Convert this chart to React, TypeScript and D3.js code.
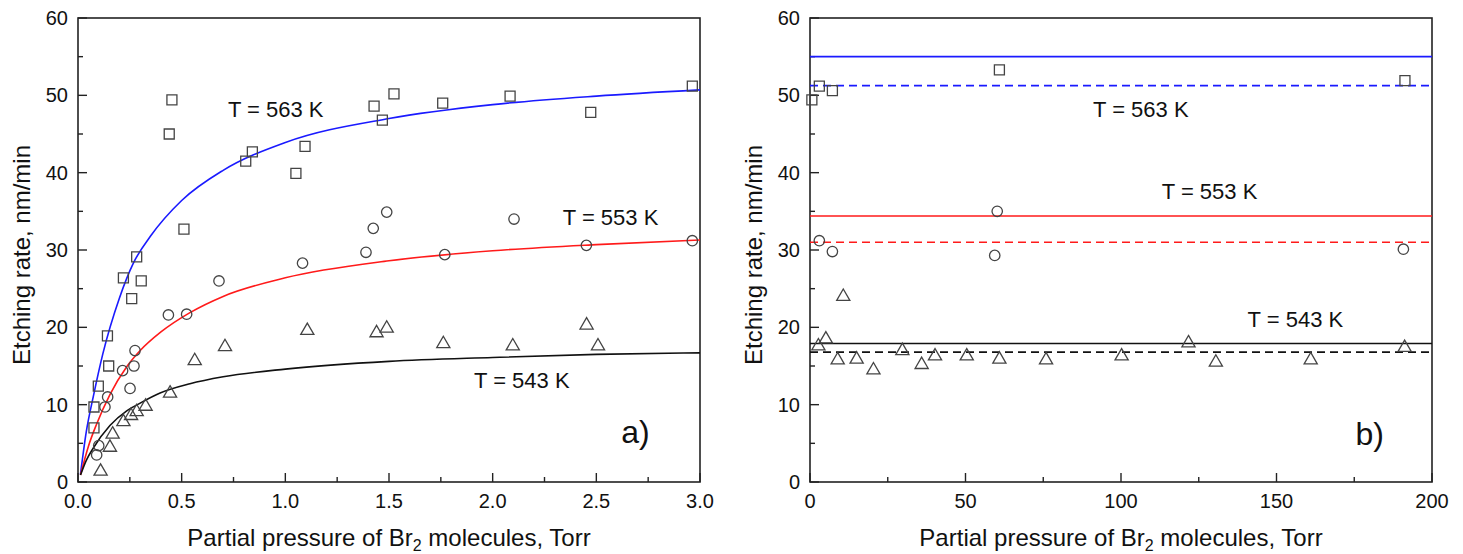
import * as React from 'react';
import { useRef, useEffect } from 'react';
import * as d3 from 'd3';

// panel a) measured points, [pressure (Torr), rate (nm/min)]
const a563 = [[0.077, 7.0], [0.077, 9.7], [0.098, 12.4], [0.142, 18.9], [0.148, 15.0], [0.219, 26.4], [0.259, 23.7], [0.283, 29.1], [0.305, 26.0], [0.44, 45.0], [0.453, 49.4], [0.511, 32.7], [0.809, 41.5], [0.841, 42.7], [1.051, 39.9], [1.095, 43.4], [1.428, 48.6], [1.468, 46.8], [1.524, 50.2], [1.759, 49.0], [2.084, 49.9], [2.473, 47.8], [2.963, 51.2]];
const a553 = [[0.09, 3.5], [0.1, 4.7], [0.13, 9.7], [0.143, 11.0], [0.215, 14.4], [0.251, 12.1], [0.27, 15.0], [0.275, 17.0], [0.436, 21.6], [0.524, 21.7], [0.68, 26.0], [1.083, 28.3], [1.389, 29.7], [1.424, 32.8], [1.489, 34.9], [1.769, 29.4], [2.103, 34.0], [2.452, 30.6], [2.963, 31.2]];
const a543 = [[0.109, 1.5], [0.154, 4.6], [0.167, 6.3], [0.219, 7.9], [0.256, 8.7], [0.283, 9.2], [0.326, 9.9], [0.444, 11.6], [0.563, 15.8], [0.709, 17.6], [1.106, 19.7], [1.44, 19.4], [1.489, 20.0], [1.762, 18.0], [2.097, 17.7], [2.453, 20.4], [2.508, 17.7]];

// panel a) fitted curves
const fit563 = [[0.012, 1.0], [0.04, 6.5], [0.075, 11.2], [0.12, 16.6], [0.2, 23.8], [0.267, 28.3], [0.35, 31.8], [0.5, 36.4], [0.7, 40.3], [1.0, 43.9], [1.5, 47.0], [2.0, 48.8], [2.5, 49.9], [3.0, 50.7]];
const fit553 = [[0.012, 0.9], [0.05, 4.6], [0.09, 7.5], [0.154, 11.3], [0.235, 14.9], [0.3, 17.0], [0.4, 19.4], [0.54, 21.9], [0.7, 24.0], [1.0, 26.4], [1.5, 28.6], [2.0, 29.9], [2.5, 30.7], [3.0, 31.3]];
const fit543 = [[0.012, 0.9], [0.04, 2.8], [0.074, 4.4], [0.154, 7.3], [0.235, 9.2], [0.3, 10.2], [0.396, 11.5], [0.54, 12.7], [0.7, 13.6], [1.0, 14.6], [1.5, 15.6], [2.0, 16.1], [2.5, 16.5], [3.0, 16.7]];

// panel b) measured points
const b563 = [[0.6, 49.4], [3.0, 51.2], [7.2, 50.6], [60.9, 53.3], [191.3, 51.9]];
const b553 = [[3.0, 31.2], [7.2, 29.8], [59.4, 29.3], [60.2, 35.0], [190.8, 30.1]];
const b543 = [[2.7, 17.7], [5.1, 18.6], [8.9, 15.9], [10.7, 24.1], [15.0, 16.0], [20.4, 14.6], [29.7, 17.1], [35.9, 15.3], [40.2, 16.4], [50.4, 16.4], [60.9, 16.0], [75.9, 15.9], [100.2, 16.4], [121.7, 18.1], [130.5, 15.6], [161, 15.9], [191.2, 17.5]];

// panel b) levels: solid = Vmax from fit, dashed = mean
const levelsSolid = [55.0, 34.4, 17.9];
const levelsDashed = [51.25, 31.0, 16.8];

const xTicksA = [0, 0.5, 1.0, 1.5, 2.0, 2.5, 3.0];
const xTicksB = [0, 50, 100, 150, 200];
const yTicks = [0, 10, 20, 30, 40, 50, 60];

const BLUE = '#1a1aff';
const RED = '#ff1a1a';
const BLACK = '#111';
const MARK = '#444';
const FONT = '"Liberation Sans", Arial, sans-serif';

const drawPanel = (svg, cfg) => {
  const { x0, x1, y0, y1, xMax, xTicks, xMinor, xFmt } = cfg;
  const x = d3.scaleLinear().domain([0, xMax]).range([x0, x1]);
  const y = d3.scaleLinear().domain([0, 60]).range([y1, y0]);
  const g = svg.append('g');

  // frame
  g.append('rect')
    .attr('x', x0).attr('y', y0)
    .attr('width', x1 - x0).attr('height', y1 - y0)
    .attr('fill', 'none').attr('stroke', '#222').attr('stroke-width', 1.6);

  // x ticks (inward)
  const xAll = d3.range(0, xMax + 1e-9, xMinor);
  xAll.forEach((v) => {
    const major = xTicks.some((t) => Math.abs(t - v) < 1e-6);
    g.append('line')
      .attr('x1', x(v)).attr('x2', x(v))
      .attr('y1', y1).attr('y2', y1 - (major ? 9 : 5))
      .attr('stroke', '#222').attr('stroke-width', 1.4);
  });
  xTicks.forEach((v) => {
    g.append('text')
      .attr('x', x(v)).attr('y', y1 + 26)
      .attr('text-anchor', 'middle')
      .attr('font-size', 20).attr('font-family', FONT).attr('fill', '#111')
      .text(xFmt(v));
  });

  // y ticks (inward)
  d3.range(0, 61, 5).forEach((v) => {
    const major = v % 10 === 0;
    g.append('line')
      .attr('x1', x0).attr('x2', x0 + (major ? 9 : 5))
      .attr('y1', y(v)).attr('y2', y(v))
      .attr('stroke', '#222').attr('stroke-width', 1.4);
  });
  yTicks.forEach((v) => {
    g.append('text')
      .attr('x', x0 - 10).attr('y', y(v) + 7)
      .attr('text-anchor', 'end')
      .attr('font-size', 20).attr('font-family', FONT).attr('fill', '#111')
      .text(v);
  });

  // axis titles
  const xt = g.append('text')
    .attr('x', (x0 + x1) / 2).attr('y', y1 + 64)
    .attr('text-anchor', 'middle')
    .attr('font-size', 24).attr('font-family', FONT).attr('fill', '#111');
  xt.append('tspan').text('Partial pressure of Br');
  xt.append('tspan').attr('font-size', 16).attr('dy', 5).text('2');
  xt.append('tspan').attr('dy', -5).text(' molecules, Torr');

  g.append('text')
    .attr('transform', `translate(${cfg.yTitleX}, ${(y0 + y1) / 2 + 5}) rotate(-90)`)
    .attr('text-anchor', 'middle')
    .attr('font-size', 24).attr('font-family', FONT).attr('fill', '#111')
    .text('Etching rate, nm/min');

  return { g, x, y };
};

const addMarkers = (g, x, y, data, shape) => {
  const sym = shape === 'square' ? d3.symbolSquare : shape === 'circle' ? d3.symbolCircle : d3.symbolTriangle;
  const size = shape === 'square' ? 100 : shape === 'circle' ? 85 : 75;
  const gen = d3.symbol().type(sym).size(size);
  g.selectAll(null)
    .data(data)
    .enter()
    .append('path')
    .attr('d', gen)
    .attr('transform', (d) => `translate(${x(d[0])}, ${y(d[1]) + (shape === 'triangle' ? 1 : 0)})`)
    .attr('fill', 'none')
    .attr('stroke', MARK)
    .attr('stroke-width', 1.3);
};

const addLabel = (g, x, y, pos, text, size) => {
  g.append('text')
    .attr('x', x(pos[0])).attr('y', y(pos[1]))
    .attr('font-size', size).attr('font-family', FONT).attr('fill', '#111')
    .text(text);
};

const App = () => {
  const svgRef = useRef(null);

  useEffect(() => {
    const svg = d3.select(svgRef.current);
    svg.selectAll('*').remove();

    // panel a)
    const A = drawPanel(svg, {
      x0: 78, x1: 700, y0: 18, y1: 482, xMax: 3, xTicks: xTicksA, xMinor: 0.25,
      xFmt: d3.format('.1f'), yTitleX: 30,
    });
    const line = d3.line().x((d) => A.x(d[0])).y((d) => A.y(d[1])).curve(d3.curveMonotoneX);
    [[fit563, BLUE], [fit553, RED], [fit543, BLACK]].forEach(([pts, c]) => {
      A.g.append('path').attr('d', line(pts)).attr('fill', 'none')
        .attr('stroke', c).attr('stroke-width', 1.6);
    });
    addMarkers(A.g, A.x, A.y, a563, 'square');
    addMarkers(A.g, A.x, A.y, a553, 'circle');
    addMarkers(A.g, A.x, A.y, a543, 'triangle');
    addLabel(A.g, A.x, A.y, [0.723, 47.2], 'T = 563 K', 22);
    addLabel(A.g, A.x, A.y, [2.338, 33.2], 'T = 553 K', 22);
    addLabel(A.g, A.x, A.y, [1.91, 12.1], 'T = 543 K', 22);
    addLabel(A.g, A.x, A.y, [2.62, 5.0], 'a)', 32);

    // panel b)
    const B = drawPanel(svg, {
      x0: 810, x1: 1432, y0: 18, y1: 482, xMax: 200, xTicks: xTicksB, xMinor: 25,
      xFmt: d3.format('d'), yTitleX: 762,
    });
    const colors = [BLUE, RED, BLACK];
    levelsSolid.forEach((v, i) => {
      B.g.append('line')
        .attr('x1', B.x(0)).attr('x2', B.x(200))
        .attr('y1', B.y(v)).attr('y2', B.y(v))
        .attr('stroke', colors[i]).attr('stroke-width', 1.6);
    });
    levelsDashed.forEach((v, i) => {
      B.g.append('line')
        .attr('x1', B.x(0)).attr('x2', B.x(200))
        .attr('y1', B.y(v)).attr('y2', B.y(v))
        .attr('stroke', colors[i]).attr('stroke-width', 1.6)
        .attr('stroke-dasharray', '8,5');
    });
    addMarkers(B.g, B.x, B.y, b563, 'square');
    addMarkers(B.g, B.x, B.y, b553, 'circle');
    addMarkers(B.g, B.x, B.y, b543, 'triangle');
    addLabel(B.g, B.x, B.y, [91.0, 47.2], 'T = 563 K', 22);
    addLabel(B.g, B.x, B.y, [113.1, 36.6], 'T = 553 K', 22);
    addLabel(B.g, B.x, B.y, [140.7, 20.1], 'T = 543 K', 22);
    addLabel(B.g, B.x, B.y, [175.4, 4.8], 'b)', 32);
  }, []);

  return (
    <svg
      ref={svgRef}
      width={1463}
      height={554}
      style={{ position: 'absolute', left: 0, top: 0, background: '#fff' }}
    />
  );
};

export default App;
